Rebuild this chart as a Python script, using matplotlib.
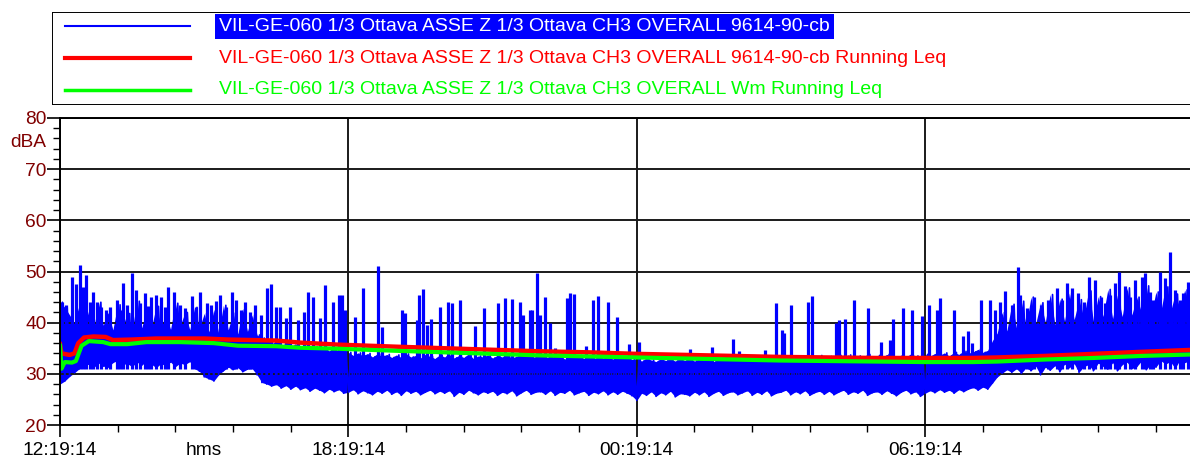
import numpy as np
import matplotlib.pyplot as plt
from matplotlib.lines import Line2D
from matplotlib.patches import Rectangle
from matplotlib.ticker import MultipleLocator

plt.rcParams['font.family'] = ['Liberation Sans', 'DejaVu Sans']

# hours since 12:19:14, one low/high sample pair every 0.1 h
t_band = np.arange(236) * 0.1
band_lo = [28.0, 28.6, 29.5, 30.2, 31.0, 31.6, 31.9, 31.2, 32.1, 31.5,
           31.3, 32.2, 32.6, 31.8, 32.0, 31.4, 32.3, 31.7, 32.4, 31.9,
           31.2, 32.0, 31.6, 32.3, 31.4, 32.1, 31.8, 32.4, 31.0, 30.5,
           29.4, 29.0, 28.6, 29.8, 30.6, 31.3, 30.8, 31.2, 30.4, 30.9,
           31.0, 29.8, 28.3, 28.0, 27.6, 27.9, 27.2, 27.7, 27.0, 27.6,
           26.9, 27.3, 26.6, 27.2, 26.8, 26.3, 27.0, 26.5, 26.9, 26.2,
           26.4, 26.9, 26.1, 26.7, 26.3, 25.9, 26.6, 26.2, 26.8, 26.0,
           26.5, 25.8, 26.7, 26.2, 26.6, 25.9, 26.4, 26.8, 26.1, 26.6,
           26.2, 26.7, 25.6, 26.4, 26.0, 26.8, 26.3, 25.9, 26.5, 26.2,
           26.6, 25.8, 26.4, 26.1, 26.7, 25.7, 26.3, 26.8, 26.0, 26.4,
           26.5, 26.0, 26.7, 25.8, 26.4, 26.2, 26.8, 25.9, 26.3, 26.6,
           25.8, 26.4, 26.1, 26.7, 25.9, 26.5, 26.0, 26.6, 26.2, 25.7,
           24.8, 26.2, 25.8, 26.5, 25.6, 26.3, 25.9, 26.6, 25.5, 26.1,
           26.0, 25.7, 26.4, 25.9, 26.5, 25.6, 26.2, 26.6, 25.8, 26.3,
           26.5, 25.9, 26.3, 26.7, 25.8, 26.4, 26.0, 26.7, 25.7, 26.2,
           26.4, 26.8, 25.9, 26.5, 26.1, 26.7, 25.8, 26.3, 26.6, 26.0,
           26.6, 25.9, 26.4, 26.8, 26.0, 26.5, 26.2, 26.8, 25.8, 26.3,
           26.5, 26.0, 26.7, 26.2, 25.7, 26.4, 26.8, 26.1, 26.5, 25.6,
           26.2, 26.7, 26.3, 26.9, 26.4, 26.8, 26.2, 26.9, 26.5, 27.0,
           27.3, 26.8, 27.4, 27.0, 28.2, 29.4, 30.1, 30.8, 30.3, 31.0,
           30.1, 31.2, 30.6, 31.5, 29.8, 31.3, 30.7, 31.6, 30.4, 31.9,
           31.2, 32.0, 30.3, 31.4, 31.8, 30.6, 32.1, 31.5, 30.9, 32.2,
           30.6, 31.8, 32.3, 31.0, 31.4, 32.5, 30.8, 32.0, 31.3, 32.6,
           31.9, 32.4, 31.1, 32.7, 32.2, 32.5]
band_hi = [44.0, 43.0, 41.5, 40.0, 43.5, 39.0, 42.5, 38.8, 44.0, 39.5,
           42.0, 38.6, 43.5, 39.2, 41.8, 38.5, 44.2, 39.0, 42.5, 38.8,
           43.2, 39.1, 41.5, 38.7, 43.8, 39.4, 42.0, 38.6, 43.0, 38.9,
           41.8, 38.2, 42.6, 38.0, 43.4, 38.6, 41.9, 37.8, 42.8, 38.3,
           41.5, 37.6, 37.0, 36.2, 35.8, 36.4, 35.5, 36.0, 35.3, 35.9,
           35.0, 35.6, 34.8, 35.3, 34.6, 35.2, 34.5, 35.0, 34.4, 34.9,
           34.2, 33.6, 34.1, 33.5, 34.0, 33.3, 33.9, 33.4, 33.8, 33.2,
           33.7, 33.2, 33.9, 33.3, 33.6, 33.1, 33.8, 33.4, 33.0, 33.7,
           33.3, 33.8, 33.1, 33.6, 33.2, 33.9, 33.0, 33.5, 33.3, 33.7,
           33.1, 33.6, 33.3, 33.8, 33.0, 33.5, 33.2, 33.7, 33.1, 33.4,
           33.6, 33.0, 33.5, 33.2, 33.7, 32.9, 33.4, 33.1, 33.6, 33.0,
           33.3, 32.8, 33.5, 33.1, 33.4, 32.9, 33.3, 33.0, 33.5, 32.8,
           33.0, 32.5, 33.1, 32.7, 32.4, 33.0, 32.6, 32.9, 32.5, 33.0,
           32.6, 33.1, 32.5, 32.9, 32.7, 33.2, 32.4, 32.8, 33.0, 32.6,
           32.9, 33.3, 32.7, 33.2, 32.8, 33.4, 32.9, 33.1, 33.4, 32.8,
           33.2, 33.5, 32.9, 33.4, 33.1, 33.6, 33.0, 33.3, 33.6, 33.1,
           33.4, 33.0, 33.6, 33.2, 33.7, 33.1, 33.5, 33.3, 33.8, 33.2,
           33.6, 33.2, 33.8, 33.4, 33.1, 33.7, 33.3, 33.9, 33.5, 33.2,
           33.8, 33.4, 34.0, 33.6, 34.1, 33.5, 34.2, 33.8, 34.4, 33.9,
           34.3, 34.8, 34.2, 34.6, 36.5, 38.0, 42.0, 38.4, 43.6, 39.0,
           44.2, 39.4, 45.0, 39.8, 43.9, 40.1, 45.5, 39.6, 44.6, 40.3,
           45.8, 40.6, 44.5, 41.0, 46.2, 40.4, 45.1, 41.2, 46.5, 40.8,
           45.4, 41.2, 46.8, 41.5, 45.0, 42.0, 47.2, 41.4, 46.0, 42.1,
           47.0, 42.0, 45.6, 42.8, 46.4, 42.7]

# short events above the background
spike_t = [0.05, 0.12, 0.26, 0.33, 0.42, 0.48, 0.55, 0.62, 0.69, 0.77, 0.85, 0.95,
           1.05, 1.18, 1.25, 1.31, 1.4, 1.49, 1.58, 1.66, 1.77, 1.84, 1.9, 2.0,
           2.1, 2.18, 2.25, 2.38, 2.5, 2.6, 2.74, 2.83, 2.91, 3.05, 3.15, 3.25,
           3.33, 3.45, 3.57, 3.67, 3.76, 3.85, 3.95, 4.05, 4.18, 4.3, 4.39, 4.5,
           4.58, 4.7, 4.79, 4.95, 5.08, 5.16, 5.27, 5.4, 5.51, 5.67, 5.8, 5.86,
           5.93, 6.14, 6.3, 6.62, 6.69, 7.11, 7.18, 7.42, 7.47, 7.56, 7.63, 7.72,
           7.91, 8.08, 8.15, 8.32, 8.63, 8.82, 9.12, 9.26, 9.4, 9.57, 9.64, 9.78,
           9.83, 9.92, 9.99, 10.09, 10.2, 10.3, 10.54, 10.62, 10.7, 10.95, 11.08, 11.2,
           11.41, 11.58, 11.83, 12.05, 13.1, 13.56, 14.01, 14.12, 14.67, 14.89, 15.02, 15.06,
           15.2, 15.56, 15.64, 16.14, 16.2, 16.33, 16.51, 16.81, 17.08, 17.27, 17.33, 17.53,
           17.73, 17.93, 18.07, 18.24, 18.3, 18.61, 18.79, 18.9, 18.97, 19.16, 19.35, 19.45,
           19.55, 19.66, 19.8, 19.93, 19.98, 20.12, 20.27, 20.4, 20.56, 20.74, 20.85, 20.95,
           21.06, 21.18, 21.3, 21.4, 21.54, 21.65, 21.74, 21.85, 21.95, 22.04, 22.16, 22.27,
           22.37, 22.51, 22.58, 22.68, 22.75, 22.89, 22.98, 23.1, 23.2, 23.3, 23.37, 23.47]
spike_db = [44.0, 43.5, 49.0, 47.5, 51.3, 47.0, 49.3, 44.0, 46.0, 44.0, 43.0, 42.5,
            43.0, 44.4, 42.5, 47.7, 43.5, 49.7, 46.4, 43.8, 45.8, 43.2, 45.1, 45.4,
            45.0, 43.0, 47.0, 46.0, 43.5, 42.8, 45.2, 43.0, 46.0, 43.8, 43.5, 44.2,
            45.5, 43.0, 45.9, 44.5, 42.5, 44.0, 42.0, 43.5, 41.5, 46.7, 47.5, 43.0,
            43.0, 41.0, 43.0, 40.5, 42.0, 46.0, 45.0, 41.0, 47.4, 44.0, 45.5, 45.4,
            42.5, 41.2, 46.7, 51.0, 39.2, 42.5, 41.8, 40.5, 45.4, 46.5, 39.5, 40.8,
            43.1, 44.1, 43.8, 44.4, 39.3, 42.8, 43.8, 44.8, 44.6, 44.1, 41.5, 42.5,
            42.4, 49.7, 41.5, 45.1, 39.9, 35.0, 44.8, 45.8, 45.6, 35.4, 44.4, 45.2,
            44.1, 41.2, 35.9, 36.3, 34.8, 35.2, 36.9, 34.4, 34.6, 43.9, 38.6, 37.9,
            43.5, 44.1, 45.2, 39.9, 40.5, 40.8, 44.4, 42.8, 36.3, 36.6, 40.8, 42.8,
            42.5, 41.3, 43.5, 42.5, 44.8, 42.5, 37.3, 38.3, 36.0, 44.5, 44.5, 42.5,
            44.0, 46.1, 43.5, 50.8, 45.4, 42.8, 45.1, 43.5, 44.5, 46.7, 44.5, 47.7,
            46.7, 45.8, 44.0, 49.0, 48.4, 45.0, 43.8, 45.4, 47.7, 50.0, 47.1, 45.0,
            48.4, 49.0, 49.8, 46.0, 44.5, 50.0, 48.7, 53.9, 46.4, 44.5, 45.8, 48.0]

red_t = [0, 0.03, 0.2, 0.3, 0.38, 0.5, 0.7, 0.95, 1.1, 1.5, 2.0, 3.0, 3.5, 4.5, 5.0,
         5.8, 7, 8, 9, 10, 11, 12, 13, 14, 15, 16, 17, 18, 19, 19.5, 20.5, 21.5, 22.5, 23.6]
red_db = [35.8, 34.0, 33.7, 34.0, 36.0, 37.1, 37.3, 37.2, 36.6, 36.7, 36.9, 36.9, 36.7,
          36.5, 36.1, 35.7, 35.3, 35.0, 34.7, 34.4, 34.2, 33.9, 33.7, 33.5, 33.3, 33.2,
          33.1, 33.1, 33.1, 33.2, 33.5, 33.9, 34.3, 34.7]
green_t = [0, 0.03, 0.1, 0.25, 0.33, 0.45, 0.6, 0.9, 1.05, 1.4, 1.8, 2.5, 3.2, 3.7, 4.5,
           5.0, 5.8, 7, 8, 9, 10, 11, 12, 13, 14, 15, 16, 17, 18, 19, 19.5, 20.5, 21.5,
           22.5, 23.6]
green_db = [35.5, 31.0, 32.3, 32.2, 32.5, 35.5, 36.4, 36.2, 35.8, 35.8, 36.2, 36.2, 36.0,
            35.5, 35.4, 35.1, 34.9, 34.5, 34.2, 33.9, 33.6, 33.4, 33.2, 33.0, 32.8, 32.6,
            32.5, 32.4, 32.3, 32.3, 32.4, 32.8, 33.1, 33.5, 33.8]

labels = ["VIL-GE-060 1/3 Ottava ASSE Z 1/3 Ottava CH3 OVERALL 9614-90-cb",
          "VIL-GE-060 1/3 Ottava ASSE Z 1/3 Ottava CH3 OVERALL 9614-90-cb Running Leq",
          "VIL-GE-060 1/3 Ottava ASSE Z 1/3 Ottava CH3 OVERALL Wm Running Leq"]
colors = ['#0000ff', '#ff0000', '#00ff00']
major_t = [0, 6, 12, 18]
major_lab = ['12:19:14', '18:19:14', '00:19:14', '06:19:14']

W, H = 1190, 459
fig = plt.figure(figsize=(W / 100, H / 100), dpi=100)
ax = fig.add_axes([60 / W, 34 / H, 1 - 60 / W, 307 / H])

# blue trace: solid band between lows and highs, jagged edge from the zig-zag
bx = np.column_stack([t_band, t_band + 0.05]).ravel()
by = np.column_stack([band_lo, band_hi]).ravel()
ax.fill_between(t_band, band_lo, band_hi, color=colors[0], lw=0)
ax.plot(bx, by, color=colors[0], lw=1.2)
ax.vlines(spike_t, 31, spike_db, color=colors[0], lw=2.3)
ax.plot(red_t, red_db, color=colors[1], lw=3.2)
ax.plot(green_t, green_db, color=colors[2], lw=3)

ax.set_xlim(0, 23.51)
ax.set_ylim(20, 80)
ax.set_yticks(range(20, 81, 10))
ax.yaxis.set_minor_locator(MultipleLocator(2))
ax.set_xticks(major_t)
ax.set_xticklabels(major_lab)
ax.set_xticks([1.2, 2.4, 3.6, 4.8, 7.2, 8.4, 9.6, 10.8, 13.2, 14.4, 15.6, 16.8,
               19.2, 20.4, 21.6, 22.8], minor=True)
ax.tick_params(axis='y', which='major', length=9.5, width=1.2, labelsize=13.8,
               labelcolor='#800000', pad=0)
ax.tick_params(axis='y', which='minor', length=5, width=1)
ax.tick_params(axis='x', which='major', length=8.5, width=1.2, labelsize=13.8, pad=4)
ax.tick_params(axis='x', which='minor', length=5, width=1)
ax.grid(True, which='major', color='#1a1a1a', lw=1.4)
for s in ['left', 'top', 'bottom']:
    ax.spines[s].set_linewidth(1.4)
ax.spines['right'].set_visible(False)
ax.text(-0.28, 75.2, 'dBA', ha='right', va='center', fontsize=13.8, color='#800000')
ax.text(3.0, -0.057, 'hms', transform=ax.get_xaxis_transform(), ha='center',
        va='top', fontsize=13.8)

# legend panel
lax = fig.add_axes([52 / W, (H - 105) / H, 1 - 52 / W + 0.01, 93 / H])
lax.set_xlim(52, W + 12)
lax.set_ylim(105, 12)
lax.axis('off')
lax.add_patch(Rectangle((52, 12), W + 10 - 52, 93, fill=False, ec='black', lw=1.4))
for y, c, lab, lw in zip([26.5, 58.5, 89.5], colors, labels, [1.5, 3, 2.5]):
    lax.add_line(Line2D([65, 190], [y, y], color=c, lw=lw))
    txt = lax.text(219, y, lab, va='center', ha='left', fontsize=14, color=c)
    if c == colors[0]:
        txt.set_color('white')
        txt.set_bbox(dict(facecolor=colors[0], edgecolor='none', pad=3))

fig.savefig('out.png', dpi=100)
